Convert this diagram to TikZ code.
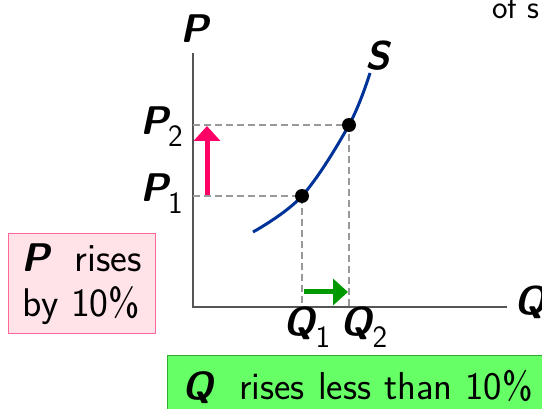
\documentclass[tikz,border=0pt]{standalone}
\usetikzlibrary{arrows.meta}

\definecolor{curveblue}{HTML}{003399}
\definecolor{risepink}{HTML}{FF0066}
\definecolor{boxpink}{HTML}{FFE3E8}
\definecolor{edgepink}{HTML}{FF6699}
\definecolor{shiftgreen}{HTML}{009900}
\definecolor{boxgreen}{HTML}{66FF66}
\definecolor{edgegreen}{HTML}{33AA33}
\definecolor{axisgray}{HTML}{555555}
\definecolor{guidegray}{HTML}{999999}

\newcommand{\econvar}[1]{{\bfseries\slshape #1}}
\newcommand{\econsub}[1]{\raisebox{-0.3em}{\fontsize{31}{31}\selectfont #1}}

\begin{document}
\begin{tikzpicture}[x=1pt, y=-1pt, font=\sffamily\fontsize{40}{45}\selectfont,
  axis/.style={axisgray, line width=1.6pt},
  guide/.style={guidegray, dash pattern=on 7pt off 4pt, line width=1.2pt},
  dot/.style={circle, fill=black, inner sep=0pt, minimum size=14pt},
  lbl/.style={inner sep=0pt},
  movearrow/.style={line width=5pt, -{Triangle[width=26pt, length=15pt]}}]
\useasboundingbox (0,0) rectangle (542,409);
\clip (0,0) rectangle (542,409);

% axes
\coordinate (origin) at (193,307);
\coordinate (ytop) at (193,53);
\coordinate (xend) at (507,307);
\draw[axis] (ytop) -- (origin) -- (xend);
\node[lbl] (plabel) at (195,29) {\econvar{P}};
\node[lbl, anchor=west] (qlabel) at (514,302) {\econvar{Q}};

% guides
\coordinate (p1) at (193,196);
\coordinate (p2) at (193,125);
\coordinate (q1) at (302,307);
\coordinate (q2) at (349,307);
\draw[guide] (p1) -| (q1);
\draw[guide] (p2) -| (q2);

% supply curve
\draw[curveblue, line width=3pt] plot[smooth, tension=0.6] coordinates {(253,232) (302,196) (349,125) (370,73)};
\node[lbl] (slabel) at (378,56) {\econvar{S}};
\node[dot] (e1) at (302,196) {};
\node[dot] (e2) at (349,125) {};

\node[lbl, anchor=base east] (p1label) at (183,202) {\econvar{P}\econsub{1}};
\node[lbl, anchor=base east] (p2label) at (183,135) {\econvar{P}\econsub{2}};
\node[lbl, anchor=base] (q1label) at (307,336) {\econvar{Q}\econsub{1}};
\node[lbl, anchor=base] (q2label) at (364,336) {\econvar{Q}\econsub{2}};

% shifts
\coordinate (pa) at (207,195);
\coordinate (pb) at (207,126);
\draw[movearrow, risepink] (pa) -- (pb);
\coordinate (ga) at (304,292);
\coordinate (gb) at (348,292);
\draw[movearrow, shiftgreen] (ga) -- (gb);

% boxes
\node[draw=edgepink, fill=boxpink, line width=1pt, minimum width=147pt, minimum height=100pt, align=center, inner sep=0pt] (pbox) at (81.5,284) {\econvar{P}\ \ rises\\by 10\%};
\node[draw=edgegreen, fill=boxgreen, line width=1pt, anchor=north west, minimum height=62pt, text width=370pt, inner xsep=15pt, align=left, font=\sffamily\fontsize{39}{45}\selectfont] (qbox) at (167,355) {\econvar{Q}\ \ rises less than 10\%};

\node[lbl, anchor=base west, font=\sffamily\fontsize{33}{36}\selectfont] (ofs) at (492,19) {of s};
\end{tikzpicture}
\end{document}
